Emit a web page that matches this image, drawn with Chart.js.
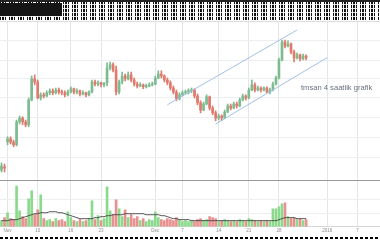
<!DOCTYPE html>
<html>
<head>
<meta charset="utf-8">
<script src="https://cdn.jsdelivr.net/npm/chart.js@4.4.1/dist/chart.umd.min.js"></script>
<style>
    html, body { margin: 0; padding: 0; background: #fff; }
    #wrap { position: relative; width: 380px; height: 240px; overflow: hidden; background: #fff; }
    #header {
        position: absolute; left: 0; top: 0; width: 380px; height: 20px;
        background-color: #fff;
        background-image:
            repeating-linear-gradient(0deg, transparent 0 3px, rgba(255,255,255,0.85) 3px 4px),
            repeating-linear-gradient(90deg, #111 0 1px, #fff 1px 2px, #111 2px 4px, #fff 4px 5px, #111 5px 6px, #fff 6px 9px);
    }
    #headerDark { position: absolute; left: 0; top: 3px; width: 62px; height: 13px; background: #151515; }
    #headerTop { position: absolute; left: 0; top: 0; width: 380px; height: 2px; background: #222; }
    #topRule { position: absolute; left: 0; top: 21px; width: 380px; height: 1px; background: #dcdcdc; }
    #sepRule { position: absolute; left: 0; top: 180px; width: 380px; height: 1px; background: #9a9a9a; }
    #footer {
        position: absolute; left: 0; top: 237px; width: 380px; height: 2px;
        background-image: repeating-linear-gradient(90deg, #000 0 3px, #fff 3px 5px);
    }
    #price { position: absolute; left: 0; top: 22px; }
    #volume { position: absolute; left: 0; top: 181px; }
    #note {
        position: absolute; left: 301px; top: 83px;
        font-family: "Liberation Sans", Arial, sans-serif; font-size: 7.6px;
        color: #66727f; white-space: nowrap;
    }
</style>
</head>
<body>
<div id="wrap">
    <div id="header"><div id="headerTop"></div><div id="headerDark"></div></div>
    <div id="topRule"></div>
    <canvas id="price" width="380" height="158"></canvas>
    <div id="sepRule"></div>
    <canvas id="volume" width="380" height="53"></canvas>
    <div id="note">tmsan 4 saatlik grafik</div>
    <div id="footer"></div>
</div>
<script>
// TMSAN 4-hour bars, Nov 2015 - Jan 2016
const barCount = 126; // includes empty slots to the right of the last bar

const tickIndex = [2, 12, 23, 33, 51, 60, 72, 82, 92, 108, 118];
const tickText  = ['Nov', '10', '16', '23', 'Dec', '7', '14', '21', '28', '2016', '7'];

const open = [
    3.25, 3.33, 3.95, 4.03, 3.95, 3.88, 4.45, 4.55, 4.45, 4.38,
    5.00, 5.53, 5.45, 5.05, 5.13, 5.10, 5.18, 5.23, 5.18, 5.25,
    5.20, 5.18, 5.13, 5.20, 5.28, 5.20, 5.23, 5.15, 5.18, 5.13,
    5.20, 5.45, 5.40, 5.43, 5.38, 5.43, 5.80, 5.88, 5.75, 5.20,
    5.45, 5.60, 5.53, 5.63, 5.50, 5.40, 5.35, 5.38, 5.33, 5.35,
    5.38, 5.40, 5.55, 5.65, 5.60, 5.50, 5.43, 5.30, 5.20, 5.03,
    5.13, 5.18, 5.20, 5.23, 5.25, 5.10, 4.93, 4.75, 4.90, 5.08,
    4.80, 4.68, 4.55, 4.60, 4.55, 4.70, 4.85, 4.80, 4.90, 4.85,
    5.00, 5.10, 5.05, 5.25, 5.38, 5.25, 5.30, 5.25, 5.30, 5.20,
    5.25, 5.40, 5.55, 6.00, 6.45, 6.35, 6.40, 6.20, 6.05, 6.13,
    6.03, 6.10
];
const high = [
    3.43, 3.40, 4.08, 4.08, 4.00, 4.50, 4.60, 4.58, 4.50, 5.05,
    5.60, 5.63, 5.50, 5.18, 5.18, 5.23, 5.28, 5.28, 5.30, 5.30,
    5.25, 5.23, 5.25, 5.33, 5.30, 5.28, 5.25, 5.23, 5.20, 5.23,
    5.50, 5.50, 5.48, 5.45, 5.43, 5.93, 5.95, 5.93, 5.85, 5.50,
    5.70, 5.65, 5.70, 5.70, 5.55, 5.45, 5.43, 5.40, 5.40, 5.43,
    5.45, 5.60, 5.73, 5.73, 5.63, 5.55, 5.48, 5.35, 5.25, 5.18,
    5.23, 5.25, 5.28, 5.30, 5.28, 5.15, 4.98, 4.95, 5.13, 5.10,
    4.85, 4.73, 4.65, 4.63, 4.75, 4.90, 4.90, 4.95, 4.95, 5.05,
    5.15, 5.13, 5.30, 5.50, 5.43, 5.35, 5.33, 5.33, 5.33, 5.30,
    5.45, 5.60, 6.05, 6.50, 6.50, 6.48, 6.43, 6.25, 6.18, 6.15,
    6.15, 6.13
];
const low = [
    3.20, 3.20, 3.88, 3.90, 3.83, 3.85, 4.40, 4.38, 4.33, 4.33,
    4.98, 5.38, 5.03, 5.00, 5.05, 5.08, 5.13, 5.13, 5.15, 5.15,
    5.13, 5.08, 5.10, 5.18, 5.15, 5.15, 5.10, 5.13, 5.08, 5.10,
    5.18, 5.35, 5.35, 5.33, 5.33, 5.35, 5.75, 5.70, 5.13, 5.15,
    5.40, 5.48, 5.50, 5.45, 5.35, 5.30, 5.33, 5.28, 5.30, 5.33,
    5.35, 5.38, 5.53, 5.55, 5.45, 5.38, 5.25, 5.15, 4.98, 5.00,
    5.10, 5.15, 5.15, 5.18, 5.05, 4.88, 4.68, 4.73, 4.88, 4.75,
    4.63, 4.48, 4.50, 4.48, 4.53, 4.68, 4.75, 4.78, 4.80, 4.83,
    4.98, 5.00, 5.03, 5.23, 5.20, 5.23, 5.20, 5.23, 5.18, 5.15,
    5.23, 5.38, 5.53, 5.98, 6.30, 6.33, 6.15, 5.95, 6.03, 5.98,
    6.00, 6.00
];
const close = [
    3.35, 3.30, 4.03, 3.95, 3.88, 4.45, 4.55, 4.45, 4.38, 5.00,
    5.53, 5.45, 5.05, 5.13, 5.10, 5.18, 5.23, 5.18, 5.25, 5.20,
    5.18, 5.13, 5.20, 5.28, 5.20, 5.23, 5.15, 5.18, 5.13, 5.20,
    5.45, 5.40, 5.43, 5.38, 5.43, 5.80, 5.88, 5.75, 5.20, 5.45,
    5.60, 5.53, 5.63, 5.50, 5.40, 5.35, 5.38, 5.33, 5.35, 5.38,
    5.40, 5.55, 5.65, 5.60, 5.50, 5.43, 5.30, 5.20, 5.03, 5.13,
    5.18, 5.20, 5.23, 5.25, 5.10, 4.93, 4.75, 4.90, 5.08, 4.80,
    4.68, 4.55, 4.60, 4.55, 4.70, 4.85, 4.80, 4.90, 4.85, 5.00,
    5.10, 5.05, 5.25, 5.38, 5.25, 5.30, 5.25, 5.30, 5.20, 5.25,
    5.40, 5.55, 6.00, 6.45, 6.35, 6.40, 6.20, 6.05, 6.13, 6.03,
    6.10, 6.05
];
const volume = [
    6, 9, 14, 8, 7, 41, 16, 10, 8, 28,
    36, 12, 17, 32, 8, 6, 7, 5, 8, 6,
    7, 5, 15, 9, 6, 5, 7, 5, 6, 8,
    26, 7, 11, 6, 8, 40, 16, 12, 27, 18,
    10, 17, 9, 12, 8, 10, 6, 8, 5, 7,
    6, 15, 9, 7, 6, 8, 7, 6, 9, 7,
    5, 6, 5, 6, 5, 7, 8, 6, 7, 10,
    9, 8, 5, 6, 7, 6, 5, 6, 5, 7,
    6, 5, 8, 7, 6, 5, 6, 5, 6, 5,
    18, 18, 20, 23, 24, 10, 8, 9, 7, 8,
    6, 7
];
const volumeMa = [
    6, 6, 6, 7, 7, 7, 8, 9, 10, 11,
    12, 13, 13, 14, 14, 14, 15, 15, 15, 14,
    14, 13, 12, 11, 10, 9, 8, 8, 8, 8,
    8, 9, 9, 10, 10, 11, 11, 12, 12, 12,
    12, 13, 13, 13, 13, 13, 13, 13, 12, 12,
    12, 12, 12, 11, 11, 10, 9, 8, 8, 7,
    7, 7, 7, 6, 6, 6, 6, 6, 6, 6,
    6, 6, 6, 6, 6, 6, 6, 6, 6, 6,
    6, 6, 6, 6, 6, 6, 6, 6, 6, 6,
    6, 6, 7, 8, 9, 9, 9, 9, 8, 8,
    8, 8
];

// hand-drawn trend channel: [bar index, price]
const upperChannel = [[55, 4.88], [98, 6.75]];
const lowerChannel = [[71, 4.40], [108, 6.06]];

// hidden grid levels
const priceGrid = [3.575, 4.075, 4.575, 5.075, 5.55, 6.0, 6.5];
const volumeGrid = [13, 27];

const UP = '#7dbb90';
const DOWN = '#e07a6c';
const VOL_UP = '#8cd98c';
const VOL_DOWN = '#e99090';
const CHANNEL = '#a3c0e6';
const GRID = '#eceff2';

const xLabels = new Array(barCount).fill('');
tickIndex.forEach((idx, k) => { xLabels[idx] = tickText[k]; });

const isUp = open.map((o, i) => close[i] >= o);
const candleColors = isUp.map(u => u ? UP : DOWN);
const volColors = isUp.map(u => u ? VOL_UP : VOL_DOWN);

function channelData(points) {
    const arr = new Array(barCount).fill(null);
    points.forEach(p => { arr[p[0]] = p[1]; });
    return arr;
}

const vGridColor = ctx => xLabels[ctx.index] ? '#e3e6e9' : 'rgba(0,0,0,0)';

function channelSet(points) {
    return {
        type: 'line',
        data: channelData(points),
        borderColor: CHANNEL,
        borderWidth: 1,
        pointRadius: 0,
        spanGaps: true,
        order: 0
    };
}

new Chart(document.getElementById('price'), {
    type: 'bar',
    data: {
        labels: xLabels,
        datasets: [
            channelSet(upperChannel),
            channelSet(lowerChannel),
            {
                data: open.map((o, i) => [o, close[i]]),
                backgroundColor: candleColors,
                barThickness: 2,
                minBarLength: 1,
                grouped: false,
                order: 1
            },
            {
                data: low.map((l, i) => [l, high[i]]),
                backgroundColor: candleColors,
                barThickness: 1,
                grouped: false,
                order: 2
            }
        ]
    },
    options: {
        responsive: false,
        animation: false,
        layout: { padding: 0 },
        plugins: { legend: { display: false }, tooltip: { enabled: false } },
        scales: {
            x: {
                offset: true,
                grid: { offset: false, drawTicks: false, color: vGridColor },
                ticks: { display: false },
                border: { display: false }
            },
            y: {
                min: 3.0,
                max: 6.95,
                grid: { drawTicks: false, color: GRID },
                ticks: { display: false },
                border: { display: false },
                afterBuildTicks: axis => { axis.ticks = priceGrid.map(v => ({ value: v })); }
            }
        }
    }
});

new Chart(document.getElementById('volume'), {
    type: 'bar',
    data: {
        labels: xLabels,
        datasets: [
            {
                type: 'line',
                data: volumeMa,
                borderColor: '#4a4a4a',
                borderWidth: 1,
                pointRadius: 0,
                tension: 0.4,
                order: 0
            },
            {
                data: volume,
                backgroundColor: volColors,
                barThickness: 2,
                order: 1
            }
        ]
    },
    options: {
        responsive: false,
        animation: false,
        layout: { padding: 0 },
        plugins: { legend: { display: false }, tooltip: { enabled: false } },
        scales: {
            x: {
                offset: true,
                grid: { offset: false, drawTicks: false, color: vGridColor },
                ticks: {
                    autoSkip: false,
                    maxRotation: 0,
                    minRotation: 0,
                    padding: 1,
                    color: '#8c8c8c',
                    font: { family: "'Liberation Sans', Arial, sans-serif", size: 4.5 },
                    callback: (v, i) => xLabels[i]
                },
                border: { color: '#d6d6d6' }
            },
            y: {
                min: 0,
                max: 46,
                grid: { drawTicks: false, color: GRID },
                ticks: { display: false },
                border: { display: false },
                afterBuildTicks: axis => { axis.ticks = volumeGrid.map(v => ({ value: v })); }
            }
        }
    }
});
</script>
</body>
</html>
